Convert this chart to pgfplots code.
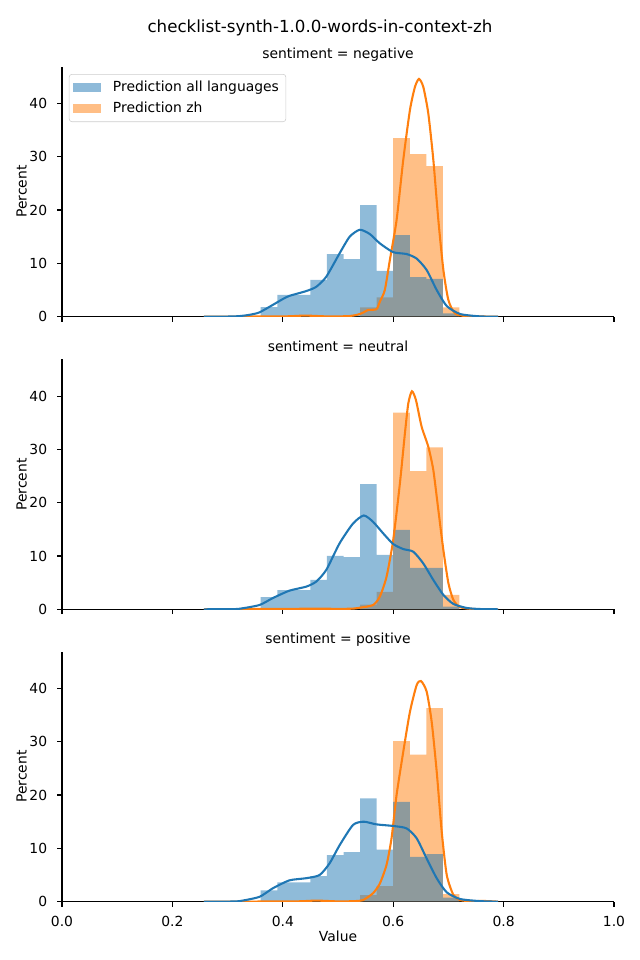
\documentclass[border=0pt]{standalone}
\usepackage{pgfplots}
\pgfplotsset{compat=1.18}
\usepackage{fontspec}
\setmainfont{DejaVu Sans}
\definecolor{tabblue}{RGB}{31,119,180}
\definecolor{taborange}{RGB}{255,127,14}
\newcommand{\tenbp}{\fontsize{10bp}{12bp}\selectfont}
\pgfplotsset{
  panel/.style={
    width=397.44bp, height=180bp, scale only axis,
    xmin=0, xmax=1, ymin=0, ymax=46.9,
    axis lines*=left, axis line style={line width=0.8bp, -},
    xtick={0,0.2,0.4,0.6,0.8,1.0}, ytick={0,10,20,30,40},
    xtick pos=left, ytick pos=left,
    tick align=outside, major tick length=3.5bp,
    tick style={line width=0.8bp, black},
    minor tick num=0,
    /pgf/number format/assume math mode=true,
    ticklabel style={font=\tenbp},
    xticklabel style={inner sep=0pt, anchor=base, yshift=-14.4bp},
    yticklabel style={inner sep=0pt, anchor=east, xshift=-7bp},
    anchor=south west,
  },
  hblue/.style={ybar interval, fill=tabblue, fill opacity=0.5, draw=none, forget plot},
  horange/.style={ybar interval, fill=taborange, fill opacity=0.5, draw=none, forget plot},
  kblue/.style={tabblue, line width=1.5bp, smooth, tension=0.4, no markers, forget plot},
  korange/.style={taborange, line width=1.5bp, smooth, tension=0.4, no markers, forget plot},
}
\begin{document}
\begin{tikzpicture}
\useasboundingbox (0,0) rectangle (460.8bp,691.2bp);
% ---------- panel 1: negative ----------
\begin{axis}[panel, at={(44.64bp,463.2bp)}, xticklabels={},
  legend style={at={(0,1)}, anchor=north west, xshift=5bp, yshift=-5.3bp,
    draw=black!20, rounded corners=2bp, fill=white, fill opacity=0.8, text opacity=1,
    font=\tenbp, row sep=2bp, inner xsep=3bp, inner ysep=3bp},
  legend cell align=left,
  legend image code/.code={\fill[#1, sharp corners] (0bp,-3.5bp) rectangle (20bp,3.5bp); \path (26.5bp,0bp);}]
\addplot[horange] coordinates {(0.54,1.75)(0.57,3.6)(0.60,33.5)(0.63,30.5)(0.66,28.25)(0.69,1.75)(0.72,0)};
\addplot[hblue] coordinates {(0.36,1.8)(0.39,4.1)(0.42,4.1)(0.45,6.9)(0.48,11.75)(0.51,10.8)(0.54,20.9)(0.57,8.6)(0.60,15.3)(0.63,7.4)(0.66,7.1)(0.69,0.6)(0.72,0)};
\addplot[korange] coordinates {(0.257,0)(0.40,0.05)(0.44,0.2)(0.48,0.05)(0.52,0.1)(0.5364,0.4)(0.5455,0.75)(0.5545,1.25)(0.5697,1.4)(0.5758,2.8)(0.5848,5)(0.5939,10.6)(0.6061,18.1)(0.6182,29.4)(0.6303,38.75)(0.6394,43.1)(0.6467,44.6)(0.6545,43.1)(0.6636,38.1)(0.6727,29.4)(0.6818,18.1)(0.6909,8.75)(0.70,3.1)(0.7121,0.6)(0.7333,0.1)(0.79,0)};
\addplot[kblue] coordinates {(0.257,0.0)(0.30,0.02)(0.3212,0.1)(0.34,0.35)(0.3576,0.8)(0.3818,2.2)(0.40,3.3)(0.4121,3.9)(0.4424,4.8)(0.4606,5.6)(0.4788,7.5)(0.503,11.9)(0.5212,15)(0.5394,16.3)(0.5576,15.5)(0.5758,13.75)(0.60,12.1)(0.6242,11.75)(0.6424,10.9)(0.6606,8.75)(0.6788,5.0)(0.697,2.0)(0.7212,0.5)(0.7576,0.05)(0.79,0.0)};
\addlegendimage{fill=tabblue, fill opacity=0.5, draw=none}
\addlegendentry{Prediction all languages}
\addlegendimage{fill=taborange, fill opacity=0.5, draw=none}
\addlegendentry{Prediction zh}
\end{axis}
% ---------- panel 2: neutral ----------
\begin{axis}[panel, at={(44.64bp,252.5bp)}, xticklabels={}]
\addplot[horange] coordinates {(0.54,0.9)(0.57,3.25)(0.60,36.9)(0.63,25.9)(0.66,30.4)(0.69,2.7)(0.72,0)};
\addplot[hblue] coordinates {(0.36,2.3)(0.39,3.6)(0.42,3.6)(0.45,5.5)(0.48,10)(0.51,9.8)(0.54,23.5)(0.57,10.2)(0.60,14.9)(0.63,7.75)(0.66,7.75)(0.69,0.5)(0.72,0)};
\addplot[korange] coordinates {(0.257,0)(0.44,0.1)(0.52,0.1)(0.5394,0.3)(0.5636,0.8)(0.5758,2.4)(0.5879,6.1)(0.60,13)(0.6121,23.6)(0.6212,33)(0.6273,38.6)(0.6339,40.9)(0.6412,39.25)(0.6515,34.25)(0.6636,30.5)(0.6727,26.1)(0.6818,18.6)(0.6909,11.1)(0.70,4.9)(0.7091,1.75)(0.7212,0.4)(0.7455,0.05)(0.79,0)};
\addplot[kblue] coordinates {(0.257,0)(0.30,0.02)(0.3212,0.1)(0.3576,0.8)(0.3818,2.1)(0.4121,3.5)(0.4424,4.25)(0.4606,5.2)(0.4788,7.4)(0.503,12.4)(0.5273,16.1)(0.5467,17.6)(0.5636,16.4)(0.5818,14.25)(0.60,12.25)(0.6182,11.3)(0.6364,10.8)(0.6545,8.6)(0.6727,5.5)(0.6909,2.7)(0.7091,1.0)(0.7333,0.25)(0.7576,0.05)(0.79,0)};
\end{axis}
% ---------- panel 3: positive ----------
\begin{axis}[panel, at={(44.64bp,42.0bp)}, xticklabels={0.0,0.2,0.4,0.6,0.8,1.0}]
\addplot[horange] coordinates {(0.54,1.25)(0.57,2.9)(0.60,30.1)(0.63,27.6)(0.66,36.3)(0.69,1.4)(0.72,0)(0.75,0.2)(0.78,0)};
\addplot[hblue] coordinates {(0.36,2.1)(0.39,3.6)(0.42,3.6)(0.45,4.8)(0.48,8.75)(0.51,9.3)(0.54,19.4)(0.57,9.75)(0.60,18.7)(0.63,8.4)(0.66,8.9)(0.69,0.75)(0.72,0)};
\addplot[korange] coordinates {(0.257,0)(0.42,0.05)(0.46,0.2)(0.50,0.05)(0.53,0.1)(0.5455,0.3)(0.5636,1.6)(0.5758,3.4)(0.5879,6.9)(0.597,11.9)(0.6061,20)(0.6182,28.1)(0.6303,35.6)(0.6424,40.6)(0.6503,41.4)(0.6606,39.4)(0.6697,33.75)(0.6788,24.4)(0.6879,13.1)(0.697,5)(0.7091,1.25)(0.7212,0.3)(0.7455,0.05)(0.76,0.15)(0.79,0)};
\addplot[kblue] coordinates {(0.257,0)(0.30,0.02)(0.3212,0.1)(0.3576,0.9)(0.3818,2.5)(0.4121,4.0)(0.4424,4.4)(0.4667,5.0)(0.4848,7.2)(0.503,10.6)(0.5273,14.4)(0.5467,15)(0.5697,14.5)(0.60,14.2)(0.6242,13.75)(0.6424,11.9)(0.6606,8.1)(0.6788,4.4)(0.697,1.75)(0.7212,0.5)(0.7576,0.1)(0.79,0)};
\end{axis}
% ---------- texts ----------
\node[anchor=north, inner sep=0pt, font=\fontsize{12bp}{14bp}\selectfont] at (230.4bp,677.4bp) {checklist-synth-1.0.0-words-in-context-zh};
\node[anchor=base, inner sep=0pt, font=\tenbp] at (243.4bp,649.2bp) {sentiment = negative};
\node[anchor=base, inner sep=0pt, font=\tenbp] at (243.4bp,438.0bp) {sentiment = neutral};
\node[anchor=base, inner sep=0pt, font=\tenbp] at (243.4bp,228.0bp) {sentiment = positive};
\node[anchor=base, inner sep=0pt, rotate=90, font=\tenbp] at (19.1bp,553.2bp) {Percent};
\node[anchor=base, inner sep=0pt, rotate=90, font=\tenbp] at (19.1bp,342.25bp) {Percent};
\node[anchor=base, inner sep=0pt, rotate=90, font=\tenbp] at (19.1bp,132.0bp) {Percent};
\node[anchor=base, inner sep=0pt, font=\tenbp] at (243.4bp,13.2bp) {Value};
\end{tikzpicture}
\end{document}
